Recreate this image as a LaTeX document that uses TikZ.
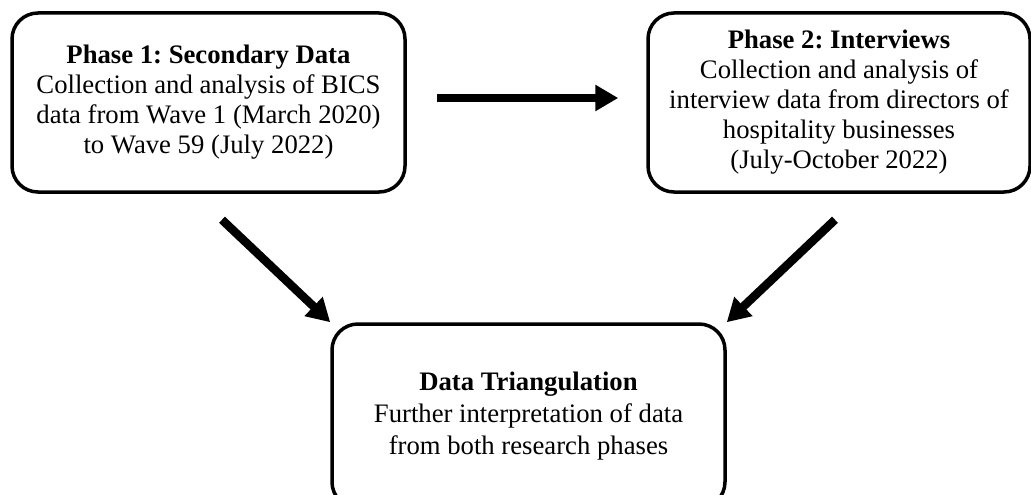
\documentclass[tikz,border=0pt]{standalone}
\usepackage{fontspec}
\setmainfont{Liberation Serif}
\usetikzlibrary{arrows.meta,calc}
\frenchspacing
\begin{document}
\begin{tikzpicture}[x=1pt,y=-1pt,
  box/.style={draw=black, line width=3.5pt, rounded corners=26pt, align=center,
    font=\fontsize{26.7}{30}\selectfont, inner sep=0pt},
  arr/.style={line width=8.5pt, -{Triangle[length=23pt,width=25pt]}}]
\useasboundingbox (0,0) rectangle (1031,495);
\clip (0,0) rectangle (1031,495);
\fill[white] (0,0) rectangle (1031,495);
\node[box, minimum width=393pt, minimum height=179pt] (p1) at (208.5,102.5)
  {\textbf{Phase 1: Secondary Data}\\Collection and analysis of BICS\\data from Wave 1 (March 2020)\\to Wave 59 (July 2022)};
\node[box, minimum width=382pt, minimum height=179pt] (p2) at (839,102.5)
  {\textbf{Phase 2: Interviews}\\Collection and analysis of\\interview data from directors of\\hospitality businesses\\(July-October 2022)};
\node[box, minimum width=393pt, minimum height=184pt, font=\fontsize{26.7}{32}\selectfont] (dt) at (528.5,416)
  {\textbf{Data Triangulation}\\Further interpretation of data\\from both research phases};
\draw[arr, shorten <=30pt, shorten >=28pt] ($(p1.east)+(0,-4.5)$) -- ($(p2.west)+(0,-4.5)$);
\draw[arr] ($(p1.south)+(13.5,26)$) -- (dt.north west);
\draw[arr] ($(p2.south)+(-4,26)$) -- (dt.north east);
\end{tikzpicture}
\end{document}
